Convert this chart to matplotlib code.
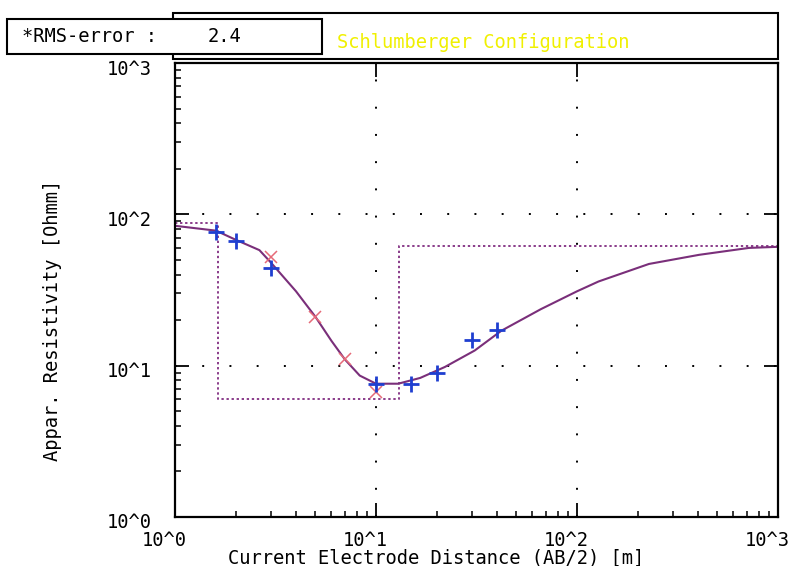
import matplotlib.pyplot as plt
import matplotlib.transforms as mtransforms
from matplotlib.patches import Rectangle
from matplotlib.ticker import LogLocator, NullFormatter

# %% DATA
# measured apparent resistivity (blue +)
meas_ab2 = [1.6, 2.0, 3.0, 10, 15, 20, 30, 40]
meas_rho = [77, 67, 44, 7.6, 7.6, 9.0, 14.8, 17.2]

# second set of points (red x)
calc_ab2 = [3.0, 5.0, 7.0, 10]
calc_rho = [52, 21, 11.0, 6.7]

# fitted sounding curve
fit_ab2 = [1.0, 1.6, 2.0, 2.63, 3.0, 4.0, 5.0, 6.0, 7.0, 8.3, 10, 12.9,
           16.6, 22, 31, 42, 66, 100, 128, 228, 405, 717, 1000]
fit_rho = [84, 78, 68, 58, 48, 31, 21, 14.6, 11.0, 8.6, 7.6, 7.6,
           8.3, 9.8, 12.6, 17, 23.6, 31, 36, 47, 54, 60, 61]

# layered model (step line)
model_ab2 = [1.0, 1.63, 1.63, 13.0, 13.0, 1000]
model_rho = [88, 88, 6.0, 6.0, 61.5, 61.5]

decades = [1, 10, 100, 1000]
decade_labels = ['10^0', '10^1', '10^2', '10^3']

title_txt = 'Schlumberger Configuration'
rms_label = '*RMS-error :'
rms_value = '2.4'

# %% FIGURE
font = 'DejaVu Sans Mono'
fs = 13.5
W, H = 790, 566
fig = plt.figure(figsize=(W / 100, H / 100), dpi=100)

def fx(px):  # pixel -> figure fraction
    return px / W
def fy(py):
    return 1 - py / H

ax = fig.add_axes([fx(175), fy(517), fx(778) - fx(175), fy(63) - fy(517)])
ax.set_xscale('log')
ax.set_yscale('log')
ax.set_xlim(1, 1000)
ax.set_ylim(1, 1000)

ax.plot(model_ab2, model_rho, color='#8a3c8a', linewidth=1.4,
        linestyle=(0, (1.2, 1.4)))
ax.plot(fit_ab2, fit_rho, color='#7a2f7a', linewidth=1.5)
ax.plot(calc_ab2, calc_rho, linestyle='none', marker='x', markersize=8,
        markeredgewidth=1.1, color='#e66a78')
ax.plot(meas_ab2, meas_rho, linestyle='none', marker='+', markersize=11,
        markeredgewidth=2, color='#1f3fd0')

# dotted grid at decades
ax.grid(which='major', color='black', linestyle=(0, (1, 13)), linewidth=1.4)

for s in ax.spines.values():
    s.set_linewidth(1.6)

ax.set_xticks(decades)
ax.set_yticks(decades)
ax.set_xticklabels(decade_labels, fontfamily=font, fontsize=fs)
ax.set_yticklabels(decade_labels, fontfamily=font, fontsize=fs)
ax.xaxis.set_minor_locator(LogLocator(base=10, subs=range(2, 10)))
ax.yaxis.set_minor_locator(LogLocator(base=10, subs=range(2, 10)))
ax.xaxis.set_minor_formatter(NullFormatter())
ax.yaxis.set_minor_formatter(NullFormatter())
ax.tick_params(which='major', direction='in', length=10, width=1.3,
               top=True, right=True)
ax.tick_params(which='minor', direction='in', length=4.5, width=1.1,
               top=False, right=False)
ax.tick_params(axis='x', which='major', pad=10)
ax.tick_params(axis='y', which='major', pad=17)

# shift labels like the plotter output
off_x = mtransforms.ScaledTranslation(-11 / 100, 0, fig.dpi_scale_trans)
for lab in ax.get_xticklabels():
    lab.set_transform(lab.get_transform() + off_x)
off_y = mtransforms.ScaledTranslation(0, -4 / 100, fig.dpi_scale_trans)
for lab in ax.get_yticklabels():
    lab.set_transform(lab.get_transform() + off_y)

fig.text(fx(436), fy(558), 'Current Electrode Distance (AB/2) [m]',
         ha='center', va='center', fontfamily=font, fontsize=fs)
fig.text(fx(53), fy(320), 'Appar. Resistivity [Ohmm]', rotation=90,
         ha='center', va='center', fontfamily=font, fontsize=fs)

# title box and RMS box
fig.patches.append(Rectangle((fx(173), fy(59)), fx(778) - fx(173), fy(13) - fy(59),
                             transform=fig.transFigure, fill=False,
                             edgecolor='black', linewidth=1.5))
fig.text(fx(337), fy(43), title_txt, ha='left', va='center',
         fontfamily=font, fontsize=fs, color='#f0f000')
fig.patches.append(Rectangle((fx(7), fy(54)), fx(322) - fx(7), fy(19) - fy(54),
                             transform=fig.transFigure, facecolor='white',
                             edgecolor='black', linewidth=1.5, zorder=3))
fig.text(fx(22), fy(37), rms_label, ha='left', va='center',
         fontfamily=font, fontsize=fs, zorder=4)
fig.text(fx(208), fy(37), rms_value, ha='left', va='center',
         fontfamily=font, fontsize=fs, zorder=4)

fig.savefig('out.png', dpi=100)
